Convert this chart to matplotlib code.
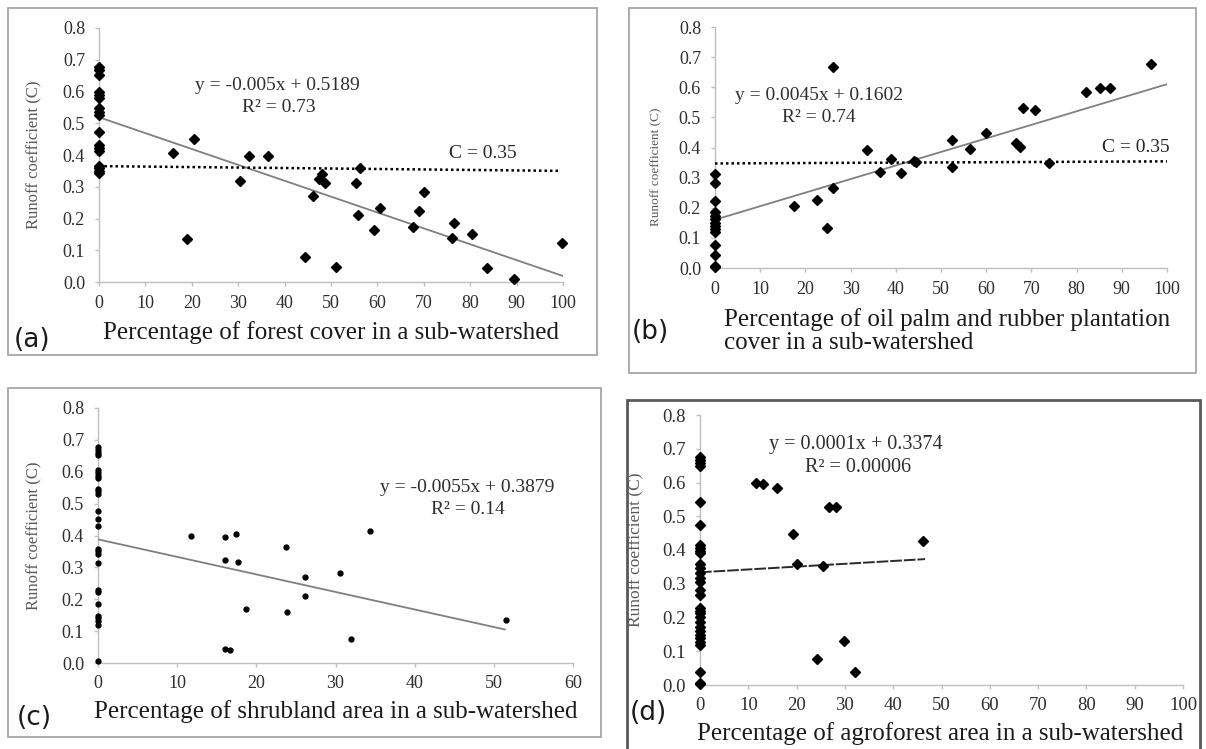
import matplotlib
matplotlib.use("Agg")
import matplotlib.pyplot as plt
from matplotlib.patches import Rectangle

W, H = 1206, 749
SERIF = ["Liberation Serif", "DejaVu Serif"]
plt.rcParams["font.family"] = SERIF

# ---------------- data ----------------
# (a) forest cover
a_x = [0, 0, 0, 0, 0, 0, 0, 0, 0, 0, 0, 0, 0, 0, 0, 0, 0,
       16.0, 18.9, 20.5, 30.4, 32.4, 36.5, 44.4, 46.2, 48.0, 47.5, 48.7, 51.1,
       56.3, 55.4, 55.9, 60.6, 59.3, 67.6, 69.0, 70.0, 76.0, 76.5, 80.3, 83.7,
       89.4, 99.8]
a_y = [0.678, 0.668, 0.652, 0.599, 0.589, 0.579, 0.547, 0.536, 0.526, 0.473,
       0.431, 0.421, 0.414, 0.366, 0.358, 0.351, 0.344,
       0.405, 0.134, 0.450, 0.318, 0.398, 0.397, 0.080, 0.271, 0.340, 0.323,
       0.313, 0.046, 0.358, 0.313, 0.211, 0.232, 0.164, 0.172, 0.224, 0.283,
       0.140, 0.187, 0.150, 0.045, 0.008, 0.122]
a_slope, a_intercept = -0.005, 0.5189
a_trend_x = [0, 100]
a_cline_x = [0, 99.5]
a_cline_y = [0.365, 0.350]

# (b) oil palm and rubber plantation
b_x = [0, 0, 0, 0, 0, 0, 0, 0, 0, 0, 0, 0, 0, 0,
       17.5, 22.6, 24.7, 26.2, 26.2, 33.6, 36.5, 38.9, 41.1, 44.0, 44.5, 52.5,
       52.5, 56.4, 60.0, 66.6, 67.5, 68.2, 70.9, 74.0, 82.0, 85.2, 87.4, 96.4]
b_y = [0.313, 0.281, 0.221, 0.185, 0.172, 0.161, 0.150, 0.140, 0.130, 0.120,
       0.075, 0.042, 0.008, 0.002,
       0.205, 0.226, 0.132, 0.267, 0.666, 0.392, 0.320, 0.361, 0.315, 0.356,
       0.352, 0.425, 0.336, 0.395, 0.449, 0.414, 0.403, 0.530, 0.526, 0.350,
       0.583, 0.596, 0.599, 0.676]
b_slope, b_intercept = 0.0045, 0.1602
b_trend_x = [0, 100]
b_cline_x = [0, 100]
b_cline_y = [0.347, 0.354]

# (c) shrubland
c_x = [0, 0, 0, 0, 0, 0, 0, 0, 0, 0, 0, 0, 0, 0, 0, 0, 0, 0, 0, 0, 0, 0, 0, 0, 0, 0,
       11.8, 16.1, 17.4, 16.0, 17.7, 18.7, 16.1, 16.7, 23.7, 23.9, 26.1, 26.2,
       30.6, 32.0, 34.3, 51.5]
c_y = [0.677, 0.669, 0.659, 0.652, 0.604, 0.596, 0.588, 0.581, 0.546, 0.539,
       0.530, 0.476, 0.452, 0.429, 0.358, 0.350, 0.343, 0.314, 0.230, 0.222,
       0.186, 0.149, 0.141, 0.133, 0.120, 0.007,
       0.397, 0.394, 0.405, 0.322, 0.317, 0.168, 0.044, 0.040, 0.363, 0.161,
       0.270, 0.211, 0.282, 0.076, 0.415, 0.134]
c_slope, c_intercept = -0.0055, 0.3879
c_trend_x = [0, 51.5]

# (d) agroforest
d_x = [0, 0, 0, 0, 0, 0, 0, 0, 0, 0, 0, 0, 0, 0, 0, 0, 0, 0, 0, 0, 0, 0, 0, 0,
       0, 0, 0, 0, 0, 0, 0,
       11.5, 13.1, 15.9, 19.3, 20.1, 24.3, 25.4, 26.8, 28.1, 29.8, 32.1, 46.2]
d_y = [0.675, 0.667, 0.657, 0.649, 0.543, 0.474, 0.415, 0.405, 0.398, 0.390,
       0.360, 0.346, 0.331, 0.316, 0.306, 0.281, 0.267, 0.227, 0.220, 0.212,
       0.202, 0.188, 0.173, 0.161, 0.148, 0.138, 0.128, 0.119, 0.040, 0.007,
       0.002,
       0.600, 0.595, 0.583, 0.447, 0.359, 0.076, 0.353, 0.528, 0.528, 0.131,
       0.040, 0.428]
d_trend_x = [0, 46.6]
d_trend_y = [0.334, 0.373]

y_ticks = [0.0, 0.1, 0.2, 0.3, 0.4, 0.5, 0.6, 0.7, 0.8]
x_ticks_100 = [0, 10, 20, 30, 40, 50, 60, 70, 80, 90, 100]
x_ticks_60 = [0, 10, 20, 30, 40, 50, 60]

ylabel = "Runoff coefficient (C)"
xlabel_a = "Percentage of forest cover in a sub-watershed"
xlabel_b = "Percentage of oil palm and rubber plantation\ncover in a sub-watershed"
xlabel_c = "Percentage of shrubland area in a sub-watershed"
xlabel_d = "Percentage of agroforest area in a sub-watershed"
eq_a = ["y = -0.005x + 0.5189", "R\u00b2 = 0.73"]
eq_b = ["y = 0.0045x + 0.1602", "R\u00b2 = 0.74"]
eq_c = ["y = -0.0055x + 0.3879", "R\u00b2 = 0.14"]
eq_d = ["y = 0.0001x + 0.3374", "R\u00b2 = 0.00006"]
c_label = "C = 0.35"

# ---------------- helpers ----------------
TICK_C = "#2e2e2e"
SPINE_C = "#bfbfbf"


def fx(x):
    return x / W


def fy(y):
    return 1 - y / H


def make_axes(fig, l, r, t, b):
    return fig.add_axes([fx(l), fy(b), fx(r - l), (b - t) / H])


def style(ax, xticks, xmax, tick_fs):
    ax.set_xlim(0, xmax)
    ax.set_ylim(0, 0.8)
    ax.set_xticks(xticks)
    ax.set_yticks(y_ticks)
    ax.set_yticklabels([f"{v:.1f}" for v in y_ticks])
    for s in ("top", "right"):
        ax.spines[s].set_visible(False)
    for s in ("left", "bottom"):
        ax.spines[s].set_color(SPINE_C)
        ax.spines[s].set_linewidth(1.0)
    ax.tick_params(axis="both", direction="out", length=3, width=1,
                   color=SPINE_C, labelcolor=TICK_C, labelsize=tick_fs)
    ax.tick_params(axis="y", pad=7)
    ax.tick_params(axis="x", pad=6)
    ax.patch.set_alpha(0)


def ftext(fig, x, y, s, **kw):
    return fig.text(fx(x), fy(y), s, **kw)


fig = plt.figure(figsize=(W / 100, H / 100), dpi=100)
fig.patch.set_facecolor("white")

# panel borders
for (l, t, r, b, col, lw) in [(8, 8, 597, 355, "#a6a6a6", 1.3),
                              (629, 8, 1196, 373, "#a6a6a6", 1.3),
                              (8, 388, 601, 737, "#a6a6a6", 1.3),
                              (627, 400, 1200, 765, "#5a5a5a", 2.0)]:
    fig.add_artist(Rectangle((fx(l), fy(b)), fx(r - l), (b - t) / H,
                             transform=fig.transFigure, fill=False,
                             edgecolor=col, linewidth=lw))

DIAM = dict(marker="D", ms=5.3, color="black", linestyle="none", clip_on=False, zorder=5)
TREND = dict(color="#7f7f7f", lw=1.3, zorder=3, solid_capstyle="butt")
CLINE = dict(color="black", lw=1.8, linestyle=(0, (1, 1.2)), zorder=4)
SANS = ["DejaVu Sans"]

# ---- (a)
ax = make_axes(fig, 99, 563, 28, 282)
style(ax, x_ticks_100, 100, 13)
ax.plot(a_cline_x, a_cline_y, **CLINE)
ax.plot(a_trend_x, [a_slope * v + a_intercept for v in a_trend_x], **TREND)
ax.plot(a_x, a_y, **DIAM)
ax.set_ylabel(ylabel, fontsize=12, color="#595959")
ax.yaxis.set_label_coords(-57 / 464, 0.5)
ftext(fig, 277, 86, eq_a[0], ha="center", va="center", fontsize=14, color=TICK_C)
ftext(fig, 279, 107, eq_a[1], ha="center", va="center", fontsize=14, color=TICK_C)
ftext(fig, 483, 153, c_label, ha="center", va="center", fontsize=14, color="#262626")
ftext(fig, 103, 333, xlabel_a, ha="left", va="center", fontsize=18, color="#1a1a1a")
ftext(fig, 14, 340, "(a)", ha="left", va="center", fontsize=19,
      family=SANS, color="#1a1a1a")

# ---- (b)
ax = make_axes(fig, 715, 1167, 27, 268)
style(ax, x_ticks_100, 100, 13)
ax.plot(b_cline_x, b_cline_y, **CLINE)
ax.plot(b_trend_x, [b_slope * v + b_intercept for v in b_trend_x], **TREND)
ax.plot(b_x, b_y, **DIAM)
ax.set_ylabel(ylabel, fontsize=9.5, color="#595959")
ax.yaxis.set_label_coords(-53 / 452, 0.42)
ftext(fig, 819, 96, eq_b[0], ha="center", va="center", fontsize=14, color=TICK_C)
ftext(fig, 819, 118, eq_b[1], ha="center", va="center", fontsize=14, color=TICK_C)
ftext(fig, 1136, 147, c_label, ha="center", va="center", fontsize=14, color="#262626")
ftext(fig, 724, 331, xlabel_b, ha="left", va="center", fontsize=18, color="#1a1a1a",
      linespacing=1.05)
ftext(fig, 632, 332, "(b)", ha="left", va="center", fontsize=19,
      family=SANS, color="#1a1a1a")

# ---- (c)
ax = make_axes(fig, 98, 573, 408, 663)
style(ax, x_ticks_60, 60, 13)
ax.plot(c_trend_x, [c_slope * v + c_intercept for v in c_trend_x], **TREND)
ax.plot(c_x, c_y, marker="o", ms=3.5, color="black", linestyle="none",
        clip_on=False, zorder=5)
ax.set_ylabel(ylabel, fontsize=12, color="#595959")
ax.yaxis.set_label_coords(-56 / 475, 0.5)
ftext(fig, 467, 487, eq_c[0], ha="center", va="center", fontsize=14, color=TICK_C)
ftext(fig, 468, 509, eq_c[1], ha="center", va="center", fontsize=14, color=TICK_C)
ftext(fig, 94, 712, xlabel_c, ha="left", va="center", fontsize=18, color="#1a1a1a")
ftext(fig, 17, 718, "(c)", ha="left", va="center", fontsize=19,
      family=SANS, color="#1a1a1a")

# ---- (d)
ax = make_axes(fig, 700, 1183, 415, 685)
style(ax, x_ticks_100, 100, 13.5)
ax.plot(d_trend_x, d_trend_y, color="#2a2a2a", lw=1.4, linestyle=(0, (6, 1)), zorder=3)
ax.plot(d_x, d_y, **DIAM)
ax.set_ylabel(ylabel, fontsize=12.5, color="#595959")
ax.yaxis.set_label_coords(-56 / 483, 0.5)
ftext(fig, 856, 445, eq_d[0], ha="center", va="center", fontsize=14.5, color=TICK_C)
ftext(fig, 858, 467, eq_d[1], ha="center", va="center", fontsize=14.5, color=TICK_C)
ftext(fig, 697, 734, xlabel_d, ha="left", va="center", fontsize=18, color="#1a1a1a")
ftext(fig, 630, 713, "(d)", ha="left", va="center", fontsize=19,
      family=SANS, color="#1a1a1a")

fig.savefig("out.png", dpi=100, facecolor="white")
